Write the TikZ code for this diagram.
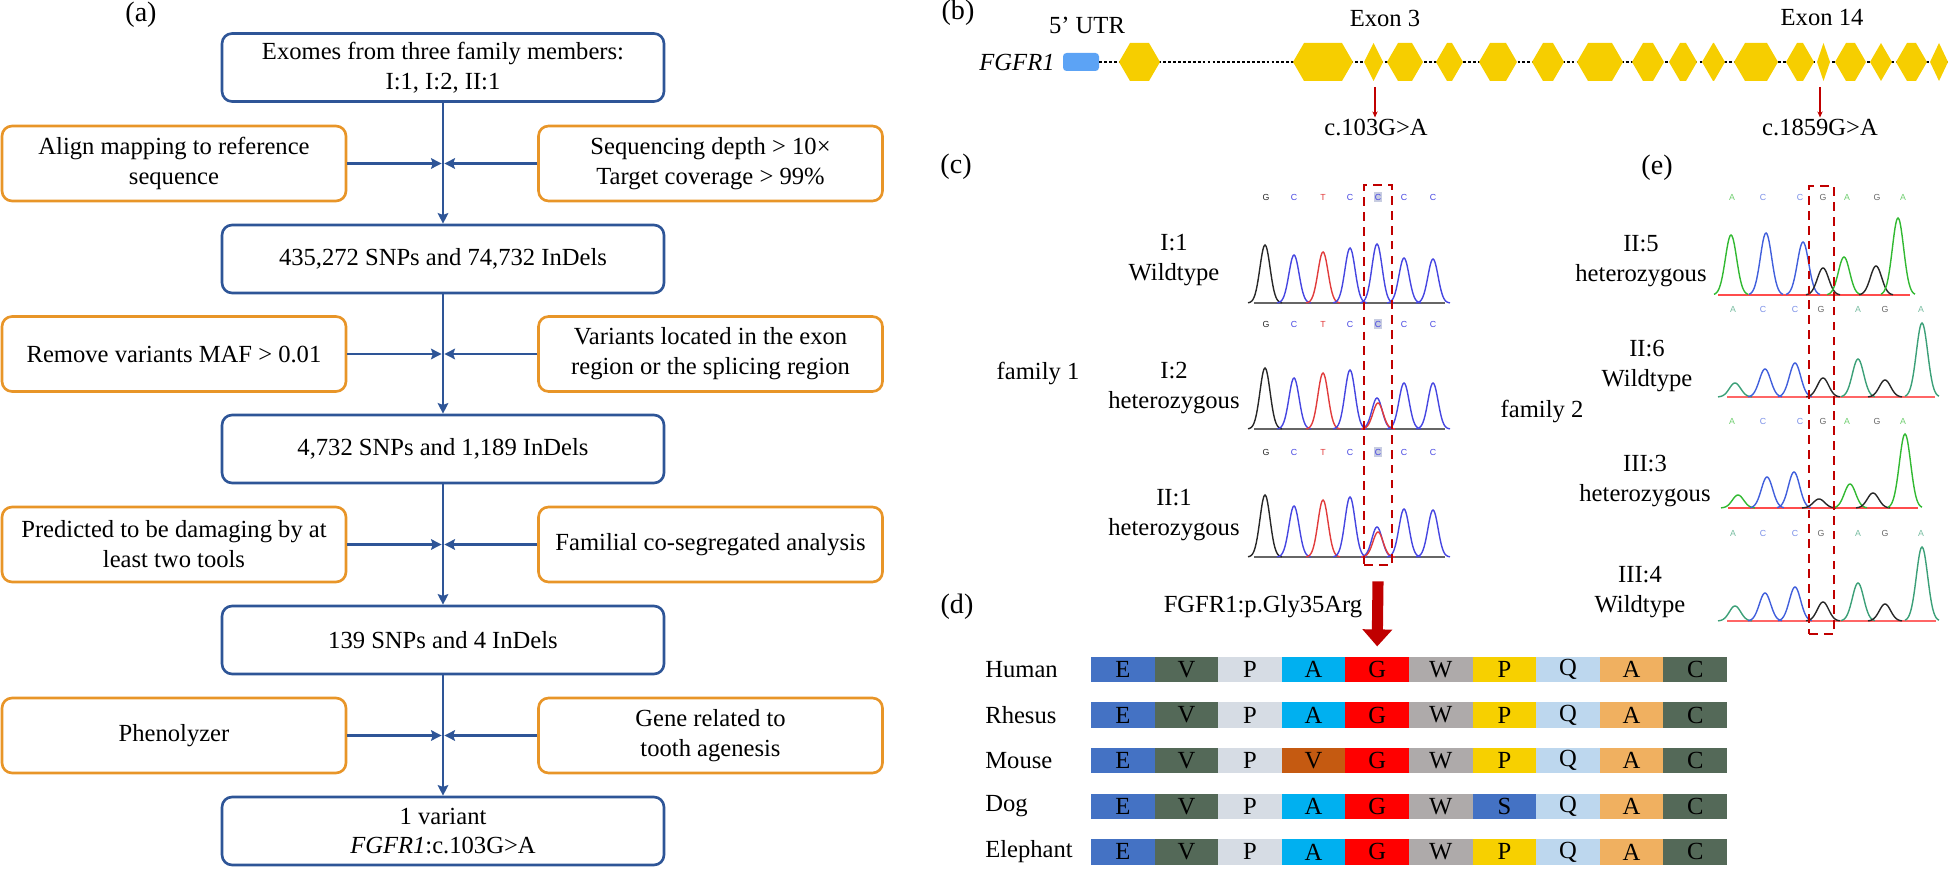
\documentclass[tikz,border=0pt]{standalone}
\usepackage{fontspec}
\setmainfont{Liberation Serif}
\setsansfont{Liberation Sans}
\usepackage{tikz}
\usetikzlibrary{arrows.meta,positioning,calc}
\definecolor{flowblue}{RGB}{46,85,151}
\definecolor{floworange}{RGB}{232,149,40}
\definecolor{markred}{RGB}{192,0,0}
\definecolor{exonyellow}{RGB}{246,206,0}
\definecolor{utrblue}{RGB}{92,163,245}
\definecolor{cG}{RGB}{40,40,40}
\definecolor{cC}{RGB}{70,70,225}
\definecolor{cT}{RGB}{225,60,60}
\definecolor{eA}{RGB}{50,185,50}
\definecolor{eA2}{RGB}{60,160,120}
\definecolor{eC}{RGB}{65,95,220}
\definecolor{eG}{RGB}{40,40,40}
\definecolor{hlgrey}{RGB}{200,205,225}
\definecolor{aE}{RGB}{68,114,196}
\definecolor{aV}{RGB}{84,105,88}
\definecolor{aP}{RGB}{214,220,228}
\definecolor{aA}{RGB}{0,176,240}
\definecolor{aG}{RGB}{255,0,0}
\definecolor{aW}{RGB}{174,170,170}
\definecolor{aP2}{RGB}{247,208,0}
\definecolor{aQ}{RGB}{189,215,238}
\definecolor{aA2}{RGB}{240,176,96}
\definecolor{aVm}{RGB}{197,90,17}
\newcommand{\tfont}{\fontsize{14}{17}\selectfont}
\newcommand{\basefont}{\fontsize{5}{6}\selectfont\sffamily}
% x, base, top, colour, spread
\newcommand{\peak}[5]{%
  \draw[#4, line width=0.8pt] plot[domain=-17:17, samples=35, smooth]
    ({#1+\x}, {#2-(#2-#3)*exp(-(\x*\x)/(#5*#5))});}

\begin{document}
\begin{tikzpicture}[x=0.02cm, y=-0.02cm,
  mbox/.style={rectangle, rounded corners=0.2cm, draw=flowblue, line width=1.5pt,
               minimum width=8.84cm, minimum height=1.36cm, align=center, font=\tfont},
  fbox/.style={rectangle, rounded corners=0.2cm, draw=floworange, line width=1.5pt,
               minimum width=6.88cm, minimum height=1.5cm, align=center, font=\tfont},
  farr/.style={-{Stealth[length=6pt, width=6pt, inset=1pt]}, line width=1.5pt, draw=flowblue},
  plabel/.style={font=\fontsize{16}{19}\selectfont},
  txt/.style={font=\tfont, align=center, inner sep=1pt},
  cell/.style={rectangle, minimum width=1.272cm, minimum height=0.51cm, inner sep=0pt, font=\tfont},
  selbox/.style={rectangle, draw=markred, line width=1.6pt, dash pattern=on 5pt off 3.5pt, inner sep=0pt},
  marr/.style={-{Stealth[length=3.5pt, width=3pt]}, draw=markred, line width=0.7pt},
  bigarr/.style={-{Triangle[width=0.58cm, length=0.34cm]}, draw=markred, line width=6.3pt},
  intron/.style={draw=black, line width=1.3pt, dash pattern=on 1.6pt off 1.2pt}
]
\useasboundingbox (0,0) rectangle (1958,874);

% Panel labels
\node[plabel] (pa) at (141,15) {(a)};
\node[plabel] (pb) at (958,13) {(b)};
\node[plabel] (pc) at (956,167) {(c)};
\node[plabel] (pd) at (957,607) {(d)};
\node[plabel] (pe) at (1657,168) {(e)};

% (a) Main steps
\node[mbox] (s1) at (443,67.5) {Exomes from three family members:\\I:1, I:2, II:1};
\node[mbox] (s2) at (443,259) {435,272 SNPs and 74,732 InDels};
\node[mbox] (s3) at (443,449) {4,732 SNPs and 1,189 InDels};
\node[mbox] (s4) at (443,640) {139 SNPs and 4 InDels};
\node[mbox] (s5) at (443,831) {1 variant\\\textit{FGFR1}:c.103G>A};

% (a) Filters
\node[fbox] (l1) at (174,163.5) {Align mapping to reference\\sequence};
\node[fbox] (r1) at (710.5,163.5) {Sequencing depth > 10×\\Target coverage > 99\%};
\node[fbox] (l2) at (174,354) {Remove variants MAF > 0.01};
\node[fbox] (r2) at (710.5,354) {Variants located in the exon\\region or the splicing region};
\node[fbox] (l3) at (174,544.5) {Predicted to be damaging by at\\least two tools};
\node[fbox] (r3) at (710.5,544.5) {Familial co-segregated analysis};
\node[fbox] (l4) at (174,735.5) {Phenolyzer};
\node[fbox] (r4) at (710.5,735.5) {Gene related to\\tooth agenesis};

\coordinate (j1) at (443,163.5);
\coordinate (j2) at (443,354);
\coordinate (j3) at (443,544.5);
\coordinate (j4) at (443,735.5);

% (a) Arrows
\draw[farr] (s1) -- (s2);
\draw[farr] (s2) -- (s3);
\draw[farr] (s3) -- (s4);
\draw[farr] (s4) -- (s5);
\foreach \k in {1,2,3,4} {
  \draw[farr, shorten >=0.8pt] (l\k.east) -- (j\k);
  \draw[farr, shorten >=0.8pt] (r\k.west) -- (j\k);
}

% (b) Gene structure
\node[font=\tfont\itshape] (gene) at (1017,62) {FGFR1};
\node[txt] (utrlab) at (1087,25) {5’ UTR};
\node[rectangle, rounded corners=0.07cm, fill=utrblue, minimum width=0.72cm,
      minimum height=0.36cm, inner sep=0pt] (utr) at (1081,62) {};
\draw[intron] (utr.east) -- (1950,62);
\foreach \a/\b in {1119/1160, 1293/1353, 1364/1383, 1387/1423, 1436/1463, 1479/1517,
                   1532/1564, 1577/1623, 1632/1664, 1669/1697, 1702/1725, 1734/1778,
                   1786/1814, 1817/1830, 1835/1866, 1870/1892, 1896/1927, 1930/1948} {
  \pgfmathsetmacro{\d}{min(11,(\b-\a)/2)}
  \fill[exonyellow] (\a,62) -- (\a+\d,43) -- (\b-\d,43) -- (\b,62) -- (\b-\d,81) -- (\a+\d,81) -- cycle;
}
\node[txt] (ex3) at (1385,18) {Exon 3};
\node[txt] (ex14) at (1822,18) {Exon 14};
\node[txt] (c103) at (1376,128) {c.103G>A};
\node[txt] (c1859) at (1820,128) {c.1859G>A};
\coordinate (m3) at (1375,87);
\coordinate (m14) at (1820,87);
\draw[marr] (m3) -- (c103.north -| m3);
\draw[marr] (m14) -- (c1859.north -| m14);

% (c) Family 1 chromatograms
\node[txt] (fam1) at (1038,373) {family 1};
\node[txt] (i1) at (1174,260) {I:1\\Wildtype};
\node[txt] (i2) at (1174,388) {I:2\\heterozygous};
\node[txt] (ii1) at (1174,515) {II:1\\heterozygous};
\foreach \ly in {197,324,452} {
  \fill[hlgrey] (1374,\ly-5) rectangle (1382,\ly+5);
  \foreach \lx/\lb/\lc [count=\n] in {1266/G/cG, 1294/C/cC, 1323/T/cT, 1350/C/cC,
                                     1378/C/cC, 1404/C/cC, 1433/C/cC}
    \node[font=\basefont, text=\lc, inner sep=0pt] (cb\ly-\n) at (\lx,\ly) {\lb};
}
\foreach \yb in {303,429,557}
  \draw[black!60, line width=0.8pt] (1254,\yb) -- (1445,\yb);
\foreach \px/\pt/\pc in {1265/245/cG, 1294/255/cC, 1323/252/cT, 1350/248/cC,
                         1377/244/cC, 1404/258/cC, 1433/259/cC}
  {\peak{\px}{303}{\pt}{\pc}{7.2}}
\foreach \px/\pt/\pc in {1265/368/cG, 1294/378/cC, 1323/373/cT, 1350/370/cC,
                         1377/398/cC, 1378/403/cT, 1404/383/cC, 1433/383/cC}
  {\peak{\px}{429}{\pt}{\pc}{7.2}}
\foreach \px/\pt/\pc in {1265/495/cG, 1294/506/cC, 1323/500/cT, 1350/497/cC,
                         1377/527/cC, 1378/532/cT, 1404/509/cC, 1433/510/cC}
  {\peak{\px}{557}{\pt}{\pc}{7.2}}

% (e) Family 2 chromatograms
\node[txt] (fam2) at (1542,411) {family 2};
\node[txt] (ii5) at (1641,261) {II:5\\heterozygous};
\node[txt] (ii6) at (1647,366) {II:6\\Wildtype};
\node[txt] (iii3) at (1645,481) {III:3\\heterozygous};
\node[txt] (iii4) at (1640,592) {III:4\\Wildtype};
\foreach \ly in {197,421}
  \foreach \lx/\lb/\lc [count=\n] in {1732/A/eA, 1763/C/eC, 1800/C/eC, 1823/G/eG,
                                     1847/A/eA, 1877/G/eG, 1903/A/eA}
    \node[font=\basefont, text=\lc!70, inner sep=0pt] (eb\ly-\n) at (\lx,\ly) {\lb};
\foreach \ly in {309,533}
  \foreach \lx/\lb/\lc [count=\n] in {1733/A/eA2, 1763/C/eC, 1795/C/eC, 1821/G/eG,
                                     1858/A/eA2, 1885/G/eG, 1921/A/eA2}
    \node[font=\basefont, text=\lc!70, inner sep=0pt] (eb\ly-\n) at (\lx,\ly) {\lb};
\draw[red!70, line width=0.7pt] (1718,295) -- (1910,295);
\draw[red!60, line width=0.7pt] (1727,397) -- (1935,397);
\draw[red!70, line width=0.7pt] (1728,508) -- (1918,508);
\draw[red!60, line width=0.7pt] (1727,621) -- (1936,621);
\foreach \px/\pt/\pc in {1731/235/eA, 1766/233/eC, 1803/242/eC, 1823/268/eG,
                         1844/257/eA, 1876/266/eG, 1898/218/eA}
  {\peak{\px}{295}{\pt}{\pc}{8}}
\foreach \px/\pt/\pc in {1735/383/eA2, 1765/369/eC, 1795/363/eC, 1823/378/eG,
                         1858/359/eA2, 1885/380/eG, 1922/323/eA2}
  {\peak{\px}{397}{\pt}{\pc}{8}}
\foreach \px/\pt/\pc in {1738/495/eA, 1767/477/eC, 1794/472/eC, 1819/499/eG,
                         1850/484/eA, 1873/493/eG, 1905/434/eA}
  {\peak{\px}{508}{\pt}{\pc}{8}}
\foreach \px/\pt/\pc in {1735/606/eA2, 1765/593/eC, 1795/587/eC, 1823/602/eG,
                         1858/583/eA2, 1885/604/eG, 1922/547/eA2}
  {\peak{\px}{621}{\pt}{\pc}{8}}

% Highlighted sites
\node[selbox, minimum width=0.56cm, minimum height=7.6cm] (selc) at (1378,375) {};
\node[selbox, minimum width=0.5cm, minimum height=8.96cm] (sele) at (1821.5,410) {};

% (d) Conservation
\node[txt] (pgly) at (1263,607) {FGFR1:p.Gly35Arg};
\foreach \nm/\sp/\yy in {hu/Human/669.5, rh/Rhesus/715.1, mo/Mouse/760.7,
                         dg/Dog/806.3, el/Elephant/851.9}
  \node[txt, anchor=west, inner sep=0pt] (n\nm) at (985,\yy) {\sp};
\foreach \i/\aa/\cc in {1/E/aE, 2/V/aV, 3/P/aP, 4/A/aA, 5/G/aG, 6/W/aW, 7/P/aP2, 8/Q/aQ, 9/A/aA2, 10/C/aV}
  \node[cell, fill=\cc] (hu\i) at ({1091+63.6*(\i-0.5)},669.5) {\aa};
\foreach \i/\aa/\cc in {1/E/aE, 2/V/aV, 3/P/aP, 4/A/aA, 5/G/aG, 6/W/aW, 7/P/aP2, 8/Q/aQ, 9/A/aA2, 10/C/aV}
  \node[cell, fill=\cc] (rh\i) at ({1091+63.6*(\i-0.5)},715.1) {\aa};
\foreach \i/\aa/\cc in {1/E/aE, 2/V/aV, 3/P/aP, 4/V/aVm, 5/G/aG, 6/W/aW, 7/P/aP2, 8/Q/aQ, 9/A/aA2, 10/C/aV}
  \node[cell, fill=\cc] (mo\i) at ({1091+63.6*(\i-0.5)},760.7) {\aa};
\foreach \i/\aa/\cc in {1/E/aE, 2/V/aV, 3/P/aP, 4/A/aA, 5/G/aG, 6/W/aW, 7/S/aE, 8/Q/aQ, 9/A/aA2, 10/C/aV}
  \node[cell, fill=\cc] (dg\i) at ({1091+63.6*(\i-0.5)},806.3) {\aa};
\foreach \i/\aa/\cc in {1/E/aE, 2/V/aV, 3/P/aP, 4/A/aA, 5/G/aG, 6/W/aW, 7/P/aP2, 8/Q/aQ, 9/A/aA2, 10/C/aV}
  \node[cell, fill=\cc] (el\i) at ({1091+63.6*(\i-0.5)},851.9) {\aa};
\draw[bigarr] ([yshift=-0.3cm]selc.south) -- ([yshift=0.2cm]hu5.north);
\end{tikzpicture}
\end{document}
